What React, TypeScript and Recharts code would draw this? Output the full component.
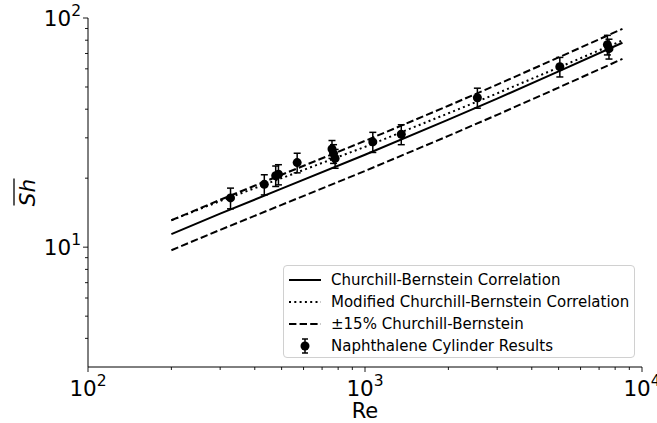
import React from 'react';
import { ComposedChart, Line, Scatter, ErrorBar, XAxis, YAxis } from 'recharts';

// axis ticks (majors get a 10^n label, the rest are minor marks)
const reTicks = [100, 200, 300, 400, 500, 600, 700, 800, 900, 1000, 2000, 3000, 4000, 5000, 6000, 7000, 8000, 9000, 10000];
const shTicks = [4, 5, 6, 7, 8, 9, 10, 20, 30, 40, 50, 60, 70, 80, 90, 100];

// correlation curves
const corrRe = [200, 300, 500, 1000, 2000, 3000, 5000, 8500];
const cbSh = [11.4, 14.0, 18.0, 25.3, 36.0, 44.5, 58.5, 78.0];
const cbUpper = [13.1, 16.1, 20.7, 29.1, 41.4, 51.2, 67.3, 89.7];
const cbLower = [9.7, 11.9, 15.3, 21.5, 30.6, 37.8, 49.7, 66.3];
const modSh = [13.1, 15.9, 20.0, 27.4, 38.4, 46.9, 60.8, 79.8];

// naphthalene cylinder measurements
const expRe = [327, 433, 476, 487, 569, 760, 770, 780, 1067, 1352, 2545, 5051, 7500, 7600];
const expSh = [16.4, 18.8, 20.5, 20.8, 23.4, 26.8, 25.6, 24.4, 28.8, 31.1, 44.9, 61.3, 76.5, 73.5];
const expErr = [1.7, 1.9, 2.1, 2.1, 2.3, 2.4, 2.4, 2.3, 2.9, 3.1, 4.5, 6.0, 7.5, 7.3];

const FONT = '"DejaVu Sans", sans-serif';

const toRows = (ys: number[]) => corrRe.map((re, i) => ({ re, sh: ys[i] }));
const cbData = toRows(cbSh);
const upperData = toRows(cbUpper);
const lowerData = toRows(cbLower);
const modData = toRows(modSh);
const expData = expRe.map((re, i) => ({ re, sh: expSh[i], err: expErr[i] }));

const isMajor = (v: number) => Math.abs(Math.log10(v) - Math.round(Math.log10(v))) < 1e-6;

const XTick = (props: any) => {
  const { x, y, payload } = props;
  const v = payload.value;
  const major = isMajor(v);
  return (
    <g>
      <line x1={x} x2={x} y1={y} y2={y + (major ? 5 : 3)} stroke="#000" strokeWidth={0.9} />
      {major && (
        <text x={x} y={y + 29} textAnchor="middle" fontSize={21.5} fontFamily={FONT} fill="#000">
          10<tspan dy={-10} fontSize={15.5}>{Math.round(Math.log10(v))}</tspan>
        </text>
      )}
    </g>
  );
};

const YTick = (props: any) => {
  const { x, y, payload } = props;
  const v = payload.value;
  const major = isMajor(v);
  return (
    <g>
      <line x1={x} x2={x - (major ? 5 : 3)} y1={y} y2={y} stroke="#000" strokeWidth={0.9} />
      {major && (
        <text x={x - 7} y={y + 8} textAnchor="end" fontSize={21.5} fontFamily={FONT} fill="#000">
          10<tspan dy={-10} fontSize={15.5}>{Math.round(Math.log10(v))}</tspan>
        </text>
      )}
    </g>
  );
};

const ShLabel = (props: any) => {
  const vb = props.viewBox;
  const cx = vb.x + 35;
  const cy = vb.y + vb.height / 2;
  return (
    <g transform={`translate(${cx},${cy}) rotate(-90)`}>
      <text x={0} y={0} textAnchor="middle" fontSize={21.5} fontStyle="italic" fontFamily={FONT} fill="#000">
        Sh
      </text>
      <line x1={-13} x2={14} y1={-21} y2={-21} stroke="#000" strokeWidth={1.3} />
    </g>
  );
};

const ReLabel = (props: any) => {
  const vb = props.viewBox;
  return (
    <text x={vb.x + vb.width / 2} y={vb.y + 51} textAnchor="middle" fontSize={21} fontFamily={FONT} fill="#000">
      Re
    </text>
  );
};

const Dot = (props: any) => <circle cx={props.cx} cy={props.cy} r={4.5} fill="#000" />;

const legendItems = [
  { label: 'Churchill-Bernstein Correlation', dash: '' },
  { label: 'Modified Churchill-Bernstein Correlation', dash: '2 3.3' },
  { label: '±15% Churchill-Bernstein', dash: '7.4 3.2' },
  { label: 'Naphthalene Cylinder Results', dash: 'err' },
];

function ChartLegend() {
  return (
    <div
      style={{
        position: 'absolute',
        left: 283,
        top: 265,
        width: 352,
        height: 93,
        boxSizing: 'border-box',
        border: '1px solid #d0d0d0',
        borderRadius: 4,
        background: 'rgba(255,255,255,0.8)',
        fontFamily: FONT,
        fontSize: 15,
        paddingTop: 3,
      }}
    >
      {legendItems.map((item) => (
        <div key={item.label} style={{ display: 'flex', alignItems: 'center', height: 22 }}>
          <svg width={47} height={22} style={{ flex: 'none' }}>
            {item.dash === 'err' ? (
              <g>
                <line x1={21} x2={21} y1={4} y2={18} stroke="#000" strokeWidth={1.5} />
                <line x1={18} x2={24} y1={4} y2={4} stroke="#000" strokeWidth={1.5} />
                <line x1={18} x2={24} y1={18} y2={18} stroke="#000" strokeWidth={1.5} />
                <circle cx={21} cy={11} r={4.5} fill="#000" />
              </g>
            ) : (
              <line x1={5} x2={37} y1={11} y2={11} stroke="#000" strokeWidth={2} strokeDasharray={item.dash || undefined} />
            )}
          </svg>
          <span style={{ color: '#000', whiteSpace: 'nowrap' }}>{item.label}</span>
        </div>
      ))}
    </div>
  );
}

export default function App() {
  return (
    <div style={{ position: 'absolute', left: 0, top: 0, width: 657, height: 423, background: '#fff' }}>
      <ComposedChart width={657} height={423} margin={{ top: 18, right: 15, left: 0, bottom: 0 }}>
        <XAxis
          dataKey="re"
          type="number"
          scale="log"
          domain={[100, 10000]}
          ticks={reTicks}
          interval={0}
          allowDataOverflow
          height={56}
          tickSize={0}
          tickMargin={0}
          tickLine={false}
          tick={<XTick />}
          axisLine={{ stroke: '#000', strokeWidth: 1 }}
          label={{ content: (p: any) => <ReLabel {...p} /> }}
        />
        <XAxis xAxisId="top" orientation="top" type="number" domain={[100, 10000]} height={0} tick={false} tickLine={false} axisLine={{ stroke: '#000', strokeWidth: 1 }} />
        <YAxis
          type="number"
          scale="log"
          domain={[3, 100]}
          ticks={shTicks}
          interval={0}
          allowDataOverflow
          width={88}
          tickSize={0}
          tickMargin={0}
          tickLine={false}
          tick={<YTick />}
          axisLine={{ stroke: '#000', strokeWidth: 1 }}
          label={{ content: (p: any) => <ShLabel {...p} /> }}
        />
        <YAxis yAxisId="right" orientation="right" type="number" domain={[3, 100]} width={0} tick={false} tickLine={false} axisLine={{ stroke: '#000', strokeWidth: 1 }} />
        <Line data={cbData} dataKey="sh" stroke="#000" strokeWidth={2} dot={false} isAnimationActive={false} />
        <Line data={modData} dataKey="sh" stroke="#000" strokeWidth={2} strokeDasharray="2 3.3" dot={false} isAnimationActive={false} />
        <Line data={upperData} dataKey="sh" stroke="#000" strokeWidth={2} strokeDasharray="7.4 3.2" dot={false} isAnimationActive={false} />
        <Line data={lowerData} dataKey="sh" stroke="#000" strokeWidth={2} strokeDasharray="7.4 3.2" dot={false} isAnimationActive={false} />
        <Scatter data={expData} dataKey="sh" shape={<Dot />} isAnimationActive={false}>
          <ErrorBar dataKey="err" direction="y" width={3.5} stroke="#000" strokeWidth={1.5} />
        </Scatter>
      </ComposedChart>
      <ChartLegend />
    </div>
  );
}
